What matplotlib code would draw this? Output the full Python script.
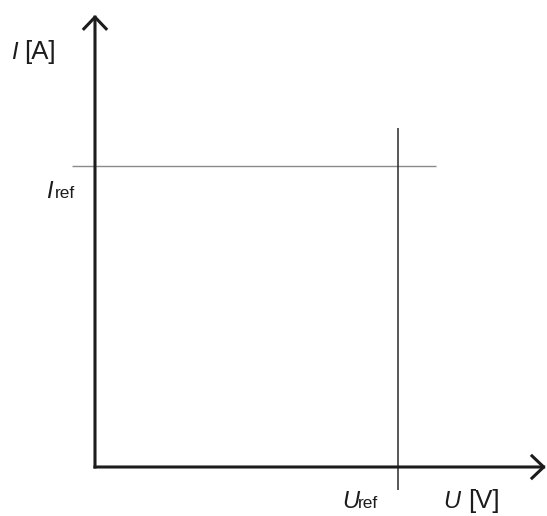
import matplotlib
matplotlib.use("Agg")
import matplotlib.pyplot as plt
from matplotlib.transforms import Affine2D

# ---- data (normalised units: U_ref = I_ref = 1) ----
U_ref = 1.0
I_ref = 1.0
U_axis_end = 1.488          # arrow tip of U axis
I_axis_end = 1.502          # arrow tip of I axis
I_ref_line_span = [-0.076, 1.125]   # U range of the horizontal I_ref line
U_ref_line_span = [-0.076, 1.126]   # I range of the vertical U_ref line
x_limits = [-0.3135, 1.4917]
y_limits = [-0.1628, 1.5515]

W, H = 547, 516
fig = plt.figure(figsize=(W / 100, H / 100), dpi=100)
ax = fig.add_axes([0, 0, 1, 1])
ax.set_xlim(x_limits)
ax.set_ylim(y_limits)
ax.axis("off")

axis_col = "#1c1c1c"
txt_col = "#1c1c1c"

# reference lines
ax.plot(I_ref_line_span, [I_ref, I_ref], color="#8a8a8a", lw=1.0, solid_capstyle="butt")
ax.plot([U_ref, U_ref], U_ref_line_span, color="#2a2a2a", lw=1.1, solid_capstyle="butt")

# axes with arrows
arrow = dict(arrowstyle="->,head_length=0.42,head_width=0.4", lw=2.2, color=axis_col,
             shrinkA=0, shrinkB=0, mutation_scale=20, capstyle="projecting")
ax.annotate("", xy=(U_axis_end, 0), xytext=(0, 0), arrowprops=arrow)
ax.annotate("", xy=(0, I_axis_end), xytext=(0, 0), arrowprops=arrow)

# pixel transform for labels
pix = Affine2D().scale(1 / 100, -1 / 100).translate(0, H / 100) + fig.dpi_scale_trans

fam = "Liberation Sans"
big = 17
unit = 18.5
small = 12.5

def lab(x, y, s, size, style="normal"):
    fig.text(x, y, s, transform=pix, fontsize=size, family=fam, style=style,
             color=txt_col, ha="left", va="baseline")

# I [A]
lab(11, 59, "I", big, "italic")
lab(24, 59, "[A]", unit)
# I_ref
lab(46, 198, "I", big, "italic")
lab(55, 198, "ref", small)
# U_ref
lab(342, 508, "U", big, "italic")
lab(358, 508, "ref", small)
# U [V]
lab(443, 508, "U", big, "italic")
lab(468, 508, "[V]", unit)

fig.savefig("out.png", dpi=100)
